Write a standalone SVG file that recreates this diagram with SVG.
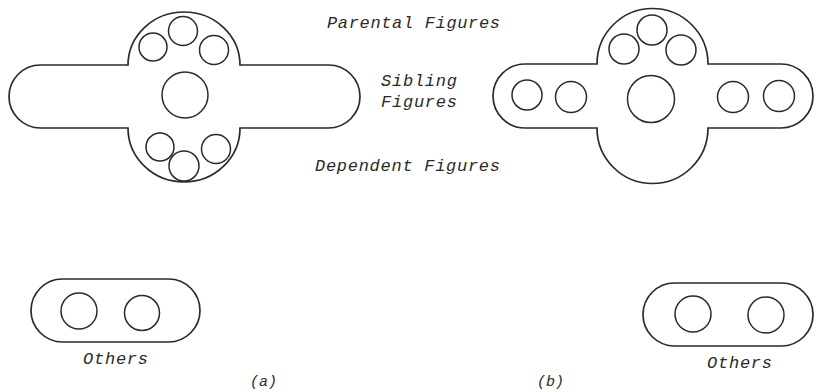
<svg xmlns="http://www.w3.org/2000/svg" width="816" height="392" viewBox="0 0 816 392">
<style>
.o{fill:none;stroke:#2a2a2a;stroke-width:1.7}
.c{fill:none;stroke:#2a2a2a;stroke-width:1.5}
.t{font-family:"Liberation Mono","DejaVu Sans Mono",monospace;font-style:italic;font-size:17px;fill:#2a2a2a}
.s{font-family:"Liberation Mono","DejaVu Sans Mono",monospace;font-style:italic;font-size:15px;fill:#2a2a2a}
</style>
<rect width="816" height="392" fill="#fff"/>
<g id="diagram-a">
<path class="o" d="M128,65 H40.5 A31.5,31.5 0 0 0 40.5,128 H128 A56,54 0 0 0 240,128 H328.5 A31.5,31.5 0 0 0 328.5,65 H240 A56,53 0 0 0 128,65 Z"/>
<circle class="c" cx="185" cy="95" r="23"/>
<circle class="c" cx="183" cy="31" r="14.5"/>
<circle class="c" cx="153" cy="47" r="14"/>
<circle class="c" cx="214" cy="50" r="14.5"/>
<circle class="c" cx="160" cy="147" r="14"/>
<circle class="c" cx="184" cy="166" r="15"/>
<circle class="c" cx="216" cy="149" r="14.5"/>
</g>
<g id="diagram-b">
<path class="o" d="M597,64 H525 A32,32 0 0 0 525,128 H597 A55.5,55.5 0 0 0 708,128 H781 A32,32 0 0 0 781,64 H708 A55.5,55.5 0 0 0 597,64 Z"/>
<circle class="c" cx="651" cy="99" r="23.5"/>
<circle class="c" cx="652" cy="30" r="15"/>
<circle class="c" cx="624" cy="49" r="15"/>
<circle class="c" cx="681" cy="50" r="15"/>
<circle class="c" cx="527" cy="95" r="15"/>
<circle class="c" cx="571" cy="97" r="15.5"/>
<circle class="c" cx="733" cy="97" r="15.5"/>
<circle class="c" cx="779" cy="96" r="15.5"/>
</g>
<g id="others-a">
<rect class="o" x="31" y="279" width="169" height="63" rx="31.5"/>
<circle class="c" cx="79" cy="311" r="18"/>
<circle class="c" cx="142" cy="313" r="17.5"/>
<text class="t" x="83" y="364" textLength="65">Others</text>
</g>
<g id="others-b">
<rect class="o" x="643" y="283" width="170" height="63" rx="31.5"/>
<circle class="c" cx="693" cy="314" r="18"/>
<circle class="c" cx="766" cy="315" r="18"/>
<text class="t" x="707" y="368" textLength="65">Others</text>
</g>
<g id="labels">
<text class="t" x="327" y="28" textLength="173">Parental Figures</text>
<text class="t" x="381" y="86" textLength="76">Sibling</text>
<text class="t" x="381" y="107" textLength="76">Figures</text>
<text class="t" x="315" y="171" textLength="185">Dependent Figures</text>
<text class="s" x="250" y="386" textLength="27">(a)</text>
<text class="s" x="537" y="386" textLength="27">(b)</text>
</g>
<g id="connectors"></g>
</svg>
